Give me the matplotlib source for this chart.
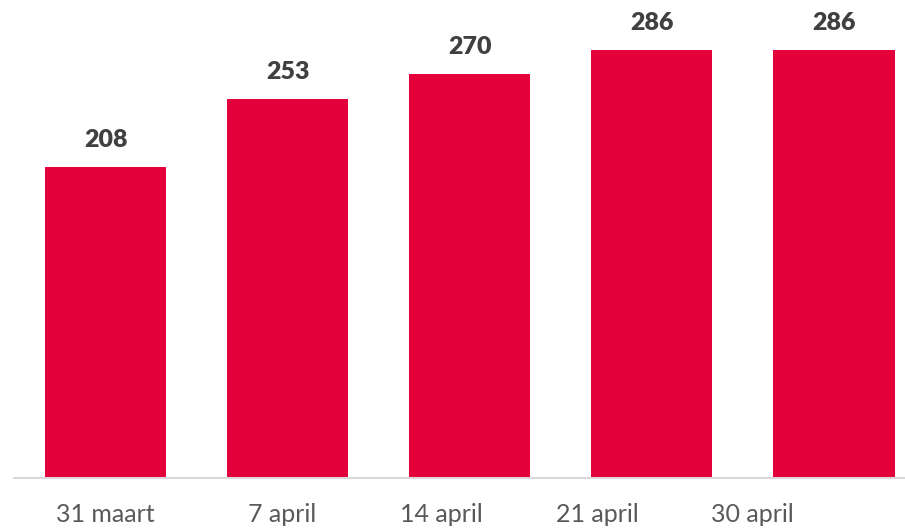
import matplotlib
matplotlib.use("Agg")
import matplotlib.pyplot as plt

categories = ["31 maart", "7 april", "14 april", "21 april", "30 april"]
values = [208, 253, 270, 286, 286]
# label positions as observed (labels not centered under bars)
label_pos = [0.0, 0.967, 1.846, 2.70, 3.55]

plt.rcParams['font.family'] = ['Lato', 'DejaVu Sans']

fig = plt.figure(figsize=(9.05, 5.28), dpi=100)
ax = fig.add_axes([14/905, 50/528, 891/905, 478/528])

x = list(range(len(values)))
bars = ax.bar(x, values, width=0.665, color="#E4003A", zorder=2)
for xi, v in zip(x, values):
    ax.annotate(str(v), (xi, v), xytext=(0, 16), textcoords="offset pixels",
                ha="center", va="bottom", fontsize=18, fontweight="heavy", color="#404040")

ax.set_xlim(-0.503, 4.39)
ax.set_ylim(0, 319.5)
ax.set_xticks(label_pos)
ax.set_xticklabels(categories, fontsize=18, color="#595959")
ax.tick_params(axis="x", length=0, pad=18)
ax.set_yticks([])
for s in ["top", "right", "left"]:
    ax.spines[s].set_visible(False)
ax.spines["bottom"].set_color("#D9D9D9")
ax.spines["bottom"].set_linewidth(1.5)

fig.savefig("out.png", dpi=100)
